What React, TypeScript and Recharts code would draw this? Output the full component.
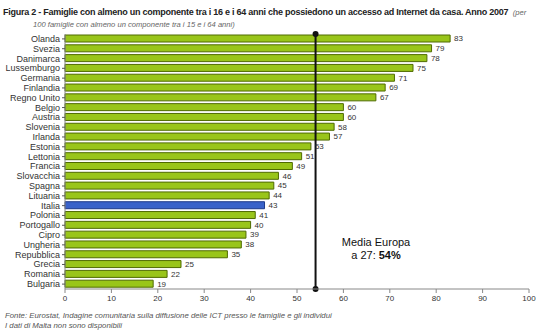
import { BarChart, Bar, XAxis, YAxis, Cell, LabelList, ReferenceLine } from 'recharts';

// Famiglie con accesso ad Internet da casa, 2007 (per 100 famiglie)
const countries = [
  'Olanda', 'Svezia', 'Danimarca', 'Lussemburgo', 'Germania', 'Finlandia', 'Regno Unito',
  'Belgio', 'Austria', 'Slovenia', 'Irlanda', 'Estonia', 'Lettonia', 'Francia',
  'Slovacchia', 'Spagna', 'Lituania', 'Italia', 'Polonia', 'Portogallo', 'Cipro',
  'Ungheria', 'Repubblica', 'Grecia', 'Romania', 'Bulgaria',
];
const values = [83, 79, 78, 75, 71, 69, 67, 60, 60, 58, 57, 53, 51, 49, 46, 45, 44, 43, 41, 40, 39, 38, 35, 25, 22, 19];
const xTicks = [0, 10, 20, 30, 40, 50, 60, 70, 80, 90, 100];
const euAverage = 54;
const highlight = 'Italia';

const data = countries.map((name, i) => ({ name, value: values[i] }));

const FONT = '"Liberation Sans", Arial, sans-serif';

// vertical line with a dot at each end
const AvgLine = (props: any) => {
  const { x1, y1, x2, y2 } = props;
  return (
    <g>
      <line x1={x1} y1={y1} x2={x2} y2={y2} stroke="#111" strokeWidth={2} />
      <circle cx={x1} cy={y1} r={3} fill="#111" />
      <circle cx={x2} cy={y2} r={3} fill="#111" />
    </g>
  );
};

// plain tick so long names don't wrap
const CountryTick = (props: any) => {
  const { x, y, payload } = props;
  return (
    <text x={x} y={y} dy={3} textAnchor="end" fontSize={9} fill="#333" fontFamily={FONT}>
      {payload.value}
    </text>
  );
};

export default function App() {
  return (
    <div style={{ position: 'fixed', top: 0, left: 0, width: 550, height: 331, background: '#fff', fontFamily: FONT }}>
      <div style={{ position: 'absolute', left: 3, top: 4, width: 547, lineHeight: '12px', color: '#222', whiteSpace: 'nowrap' }}>
        <b style={{ fontSize: 9, letterSpacing: -0.25 }}>
          Figura 2 - Famiglie con almeno un componente tra i 16 e i 64 anni che possiedono un accesso ad Internet da casa. Anno 2007
        </b>{' '}
        <i style={{ color: '#666', fontSize: 7.6 }}>(per</i>
        <div style={{ paddingLeft: 30, fontStyle: 'italic', color: '#666', fontSize: 7.6 }}>
          100 famiglie con almeno un componente tra i 15 e i 64 anni)
        </div>
      </div>

      <BarChart
        width={550}
        height={331}
        data={data}
        layout="vertical"
        margin={{ top: 34, right: 21, left: 0, bottom: 0 }}
        barCategoryGap={1}
      >
        <XAxis
          type="number"
          domain={[0, 100]}
          ticks={xTicks}
          interval={0}
          height={42}
          tickSize={4}
          tickMargin={2}
          axisLine={{ stroke: '#888' }}
          tickLine={{ stroke: '#888' }}
          tick={{ fontSize: 8, fill: '#333', fontFamily: FONT }}
        />
        <YAxis
          type="category"
          dataKey="name"
          width={65}
          interval={0}
          tickSize={3}
          tickMargin={2}
          axisLine={{ stroke: '#888' }}
          tickLine={{ stroke: '#555' }}
          tick={<CountryTick />}
        />
        <Bar dataKey="value" barSize={7} stroke="#4f6b00" strokeWidth={1} isAnimationActive={false}>
          {data.map((d) => (
            <Cell key={d.name} fill={d.name === highlight ? '#3a62c9' : '#99c51a'} stroke={d.name === highlight ? '#1f3a8a' : '#4f6b00'} />
          ))}
          <LabelList dataKey="value" position="right" offset={4} style={{ fontSize: 8, fill: '#333', fontFamily: FONT }} />
        </Bar>
        <ReferenceLine x={euAverage} ifOverflow="extendDomain" shape={AvgLine} />
      </BarChart>

      <div style={{ position: 'absolute', left: 320, top: 236, width: 112, textAlign: 'center', fontSize: 11, lineHeight: '13px', color: '#111' }}>
        Media Europa
        <br />a 27: <b>54%</b>
      </div>

      <div style={{ position: 'absolute', left: 5, top: 311, fontSize: 7.8, lineHeight: '10px', fontStyle: 'italic', color: '#555', whiteSpace: 'nowrap' }}>
        Fonte: Eurostat, Indagine comunitaria sulla diffusione delle ICT presso le famiglie e gli individui
        <br />I dati di Malta non sono disponibili
      </div>
    </div>
  );
}
